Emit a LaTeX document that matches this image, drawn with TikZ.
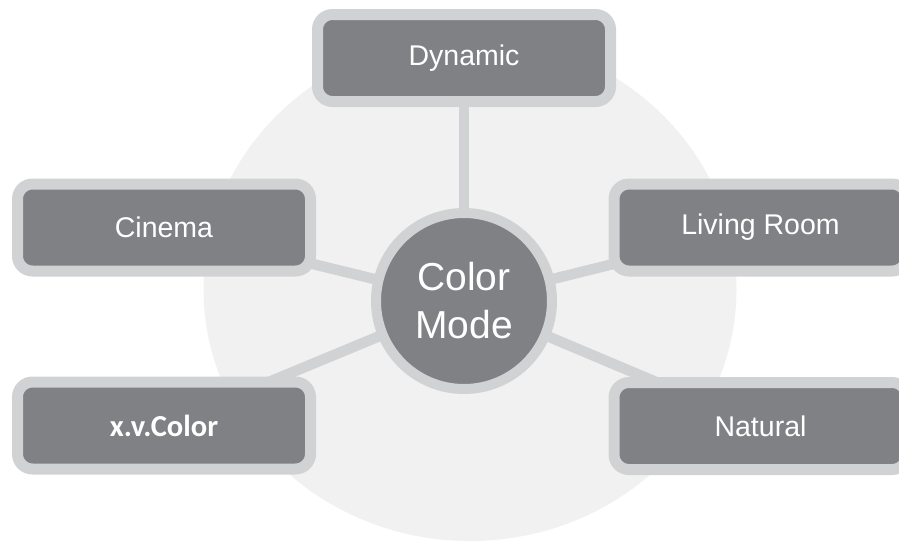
\documentclass[tikz,border=0pt]{standalone}
\usepackage{fontspec}
\setmainfont{Liberation Sans}
\newfontfamily\xvfont{Carlito}
\definecolor{boxfill}{HTML}{808184}
\definecolor{boxedge}{HTML}{D1D2D4}
\definecolor{disc}{HTML}{F1F1F1}
\pgfdeclarelayer{ell}
\pgfdeclarelayer{links}
\pgfsetlayers{ell,links,main}
\tikzset{
  modebox/.style={draw=boxedge, fill=boxfill, line width=11pt, rounded corners=15pt,
    minimum width=293pt, minimum height=87pt, inner sep=0pt, text=white,
    font=\fontsize{28.5}{34}\selectfont},
  hub/.style={circle, draw=boxedge, fill=boxfill, line width=10pt, minimum size=176pt,
    inner sep=0pt, text=white, align=center, font=\fontsize{39}{48}\selectfont},
  link/.style={draw=boxedge, line width=10.5pt}
}
\begin{document}
\begin{tikzpicture}[x=1pt,y=-1pt]
\useasboundingbox (0,0) rectangle (899,542);
\clip (0,0) rectangle (899,542);
\begin{pgfonlayer}{ell}
  \fill[disc] (470,289) ellipse [x radius=266.5pt, y radius=252pt];
\end{pgfonlayer}
\node[hub] (hub) at (464,301) {Color\\Mode};
\node[modebox] (dyn) at (464,58) {Dynamic};
\node[modebox] (cin) at (164,227.5) {Cinema};
\node[modebox] (liv) at (760.5,227.5) {Living Room};
\node[modebox] (xvc) at (164,425.5) {\xvfont\bfseries\fontsize{30.5}{34}\selectfont x.v.Color};
\node[modebox] (nat) at (760.5,426) {Natural};
\begin{pgfonlayer}{links}
  \draw[link] (hub.center) -- (dyn.center);
  \draw[link] (hub.center) -- (cin.center);
  \draw[link] (hub.center) -- (liv.center);
  \draw[link] (hub.center) -- (xvc.center);
  \draw[link] (hub.center) -- (nat.center);
\end{pgfonlayer}
\end{tikzpicture}
\end{document}
